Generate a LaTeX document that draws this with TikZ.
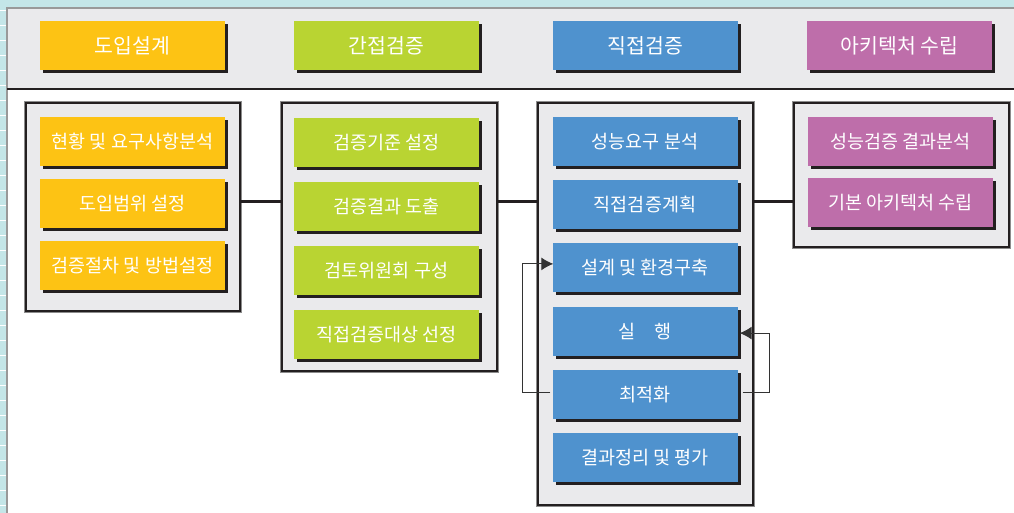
\documentclass[tikz,border=0pt]{standalone}
\usepackage{fontspec}
\newfontfamily\kr{Noto Sans CJK KR}
\usetikzlibrary{shadows,arrows.meta}
\definecolor{bgcyan}{HTML}{C4E6E8}
\definecolor{panelgray}{HTML}{EAEAEC}
\definecolor{cOrange}{HTML}{FDC314}
\definecolor{cGreen}{HTML}{B9D432}
\definecolor{cBlue}{HTML}{4F92CE}
\definecolor{cPurple}{HTML}{BE6EAA}
\definecolor{shadowblk}{HTML}{231F20}
\tikzset{
  box/.style={minimum width=185pt, minimum height=49pt, inner sep=0pt, text=white,
    font=\kr\fontsize{18.5}{20}\selectfont,
    drop shadow={shadow xshift=3pt, shadow yshift=-3pt, fill=shadowblk, opacity=1}},
  headbox/.style={box, font=\kr\fontsize{20.5}{22}\selectfont},
  panel/.style={draw=shadowblk, line width=1.8pt, fill=panelgray, inner sep=0pt,
    double copy shadow={shadow xshift=0pt, shadow yshift=0pt, draw=black!45, line width=3.2pt}},
  link/.style={line width=3pt, draw=shadowblk},
  fb/.style={line width=1pt, draw=black!80, -{Latex[length=12pt,width=13pt]}},
}
\begin{document}
\begin{tikzpicture}[x=1pt, y=-1pt]
\useasboundingbox (0,0) rectangle (1014,513);
% background
\fill[bgcyan] (0,0) rectangle (1014,513);
\foreach \yy in {10,25,...,505} \draw[white, line width=0.8pt] (0,\yy) -- (6,\yy);
\fill[white] (7,90) rectangle (1014,513);
\fill[panelgray] (7,8) rectangle (1014,90);
\draw[black!40, line width=1.5pt] (7,513) -- (7,8) -- (1014,8);
\draw[shadowblk, line width=2pt] (7,89.5) -- (1014,89.5);

% headers
\node[headbox, fill=cOrange] (h1) at (132.5,45.5) {도입설계};
\node[headbox, fill=cGreen] (h2) at (386.5,45.5) {간접검증};
\node[headbox, fill=cBlue] (h3) at (645.5,45.5) {직접검증};
\node[headbox, fill=cPurple] (h4) at (899.5,45.5) {아키텍처 수립};

% panels
\node[panel, minimum width=214pt, minimum height=208pt] (p1) at (133,207) {};
\node[panel, minimum width=215pt, minimum height=268pt] (p2) at (389.5,237) {};
\node[panel, minimum width=215pt, minimum height=402pt] (p3) at (645.5,304) {};
\node[panel, minimum width=215pt, minimum height=144pt] (p4) at (901.5,175) {};

% connectors
\coordinate (lv) at (0,202);
\draw[link] (p1.east |- lv) -- (p2.west |- lv);
\draw[link] (p2.east |- lv) -- (p3.west |- lv);
\draw[link] (p3.east |- lv) -- (p4.west |- lv);

% panel 1
\node[box, fill=cOrange] (a1) at (132.5,141.5) {현황 및 요구사항분석};
\node[box, fill=cOrange] (a2) at (132.5,203.5) {도입범위 설정};
\node[box, fill=cOrange] (a3) at (132.5,265.5) {검증절차 및 방법설정};

% panel 2
\node[box, fill=cGreen] (b1) at (386.5,142.5) {검증기준 설정};
\node[box, fill=cGreen] (b2) at (386.5,206.5) {검증결과 도출};
\node[box, fill=cGreen] (b3) at (386.5,270.5) {검토위원회 구성};
\node[box, fill=cGreen] (b4) at (386.5,334.5) {직접검증대상 선정};

% panel 3
\node[box, fill=cBlue] (c1) at (645,141.5) {성능요구 분석};
\node[box, fill=cBlue] (c2) at (645,204.7) {직접검증계획};
\node[box, fill=cBlue] (c3) at (645,267.9) {설계 및 환경구축};
\node[box, fill=cBlue] (c4) at (645,331.1) {실\quad 행};
\node[box, fill=cBlue] (c5) at (645,394.3) {최적화};
\node[box, fill=cBlue] (c6) at (645,457.5) {결과정리 및 평가};

% panel 4
\node[box, fill=cPurple] (d1) at (900.5,141.5) {성능검증 결과분석};
\node[box, fill=cPurple] (d2) at (900.5,202.5) {기본 아키텍처 수립};

% feedback loops
\draw[fb] ([xshift=-2pt,yshift=1.5pt]c5.west) -- ++(-28,0) |- ([xshift=1pt,yshift=4pt]c3.west);
\draw[fb] ([xshift=5pt,yshift=1.5pt]c5.east) -- ++(27,0) |- ([xshift=2pt,yshift=-2pt]c4.east);
\end{tikzpicture}
\end{document}
